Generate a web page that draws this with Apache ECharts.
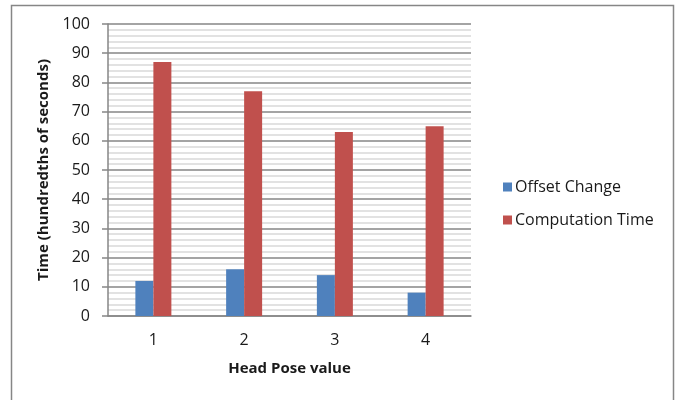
<!DOCTYPE html>
<html>
<head>
<meta charset="utf-8">
<script src="https://cdn.jsdelivr.net/npm/echarts@6/dist/echarts.min.js"></script>
<style>
html,body{margin:0;padding:0;background:#fff;}
#chart{width:676px;height:400px;}
</style>
</head>
<body>
<div id="chart"></div>
<script>
const categories = ['1', '2', '3', '4'];
const offsetChange = [12, 16, 14, 8];
const computationTime = [87, 77, 63, 65];
const seriesNames = ['Offset Change', 'Computation Time'];
const xTitle = 'Head Pose value';
const yTitle = 'Time (hundredths of seconds)';

const font = 'Open Sans, Liberation Sans, sans-serif';
const chart = echarts.init(document.getElementById('chart'), null, {renderer: 'canvas'});
chart.setOption({
  animation: false,
  backgroundColor: '#fff',
  graphic: [{
    type: 'rect',
    shape: {x: 11.5, y: 5.5, width: 662, height: 400},
    style: {fill: 'none', stroke: '#868686', lineWidth: 1.5},
    z: -1
  }],
  grid: {left: 108, right: 205, top: 24, bottom: 84},
  legend: {
    orient: 'vertical',
    left: 498,
    top: 174,
    itemWidth: 9,
    itemHeight: 9,
    itemGap: 17,
    icon: 'rect',
    textStyle: {fontFamily: font, fontSize: 16, color: '#1a1a1a', padding: [0, 0, 0, -2]},
    data: seriesNames
  },
  xAxis: {
    type: 'category',
    data: categories,
    name: xTitle,
    nameLocation: 'middle',
    nameGap: 45,
    nameTextStyle: {fontFamily: font, fontSize: 15, fontWeight: 'bold', color: '#1a1a1a', verticalAlign: 'top'},
    axisLine: {lineStyle: {color: '#868686', width: 1.5}},
    axisTick: {show: false},
    axisLabel: {fontFamily: font, fontSize: 16, color: '#1a1a1a', margin: 16}
  },
  yAxis: {
    type: 'value',
    min: 0,
    max: 100,
    interval: 10,
    name: yTitle,
    nameLocation: 'middle',
    nameGap: 51,
    nameTextStyle: {fontFamily: font, fontSize: 15, fontWeight: 'bold', color: '#1a1a1a'},
    axisLine: {show: true, lineStyle: {color: '#868686', width: 1.5}},
    axisTick: {show: true, length: 6, lineStyle: {color: '#868686', width: 1.5}},
    axisLabel: {fontFamily: font, fontSize: 16, color: '#1a1a1a', margin: 18},
    splitLine: {show: true, lineStyle: {color: '#868686', width: 1.5}},
    minorTick: {show: false, splitNumber: 5},
    minorSplitLine: {show: true, lineStyle: {color: '#d9d9d9', width: 1.5}}
  },
  series: [
    {name: seriesNames[0], type: 'bar', data: offsetChange, barWidth: 18, barGap: '0%',
     itemStyle: {color: '#4f81bd'}},
    {name: seriesNames[1], type: 'bar', data: computationTime, barWidth: 18,
     itemStyle: {color: '#c0504d'}}
  ]
});
</script>
</body>
</html>
